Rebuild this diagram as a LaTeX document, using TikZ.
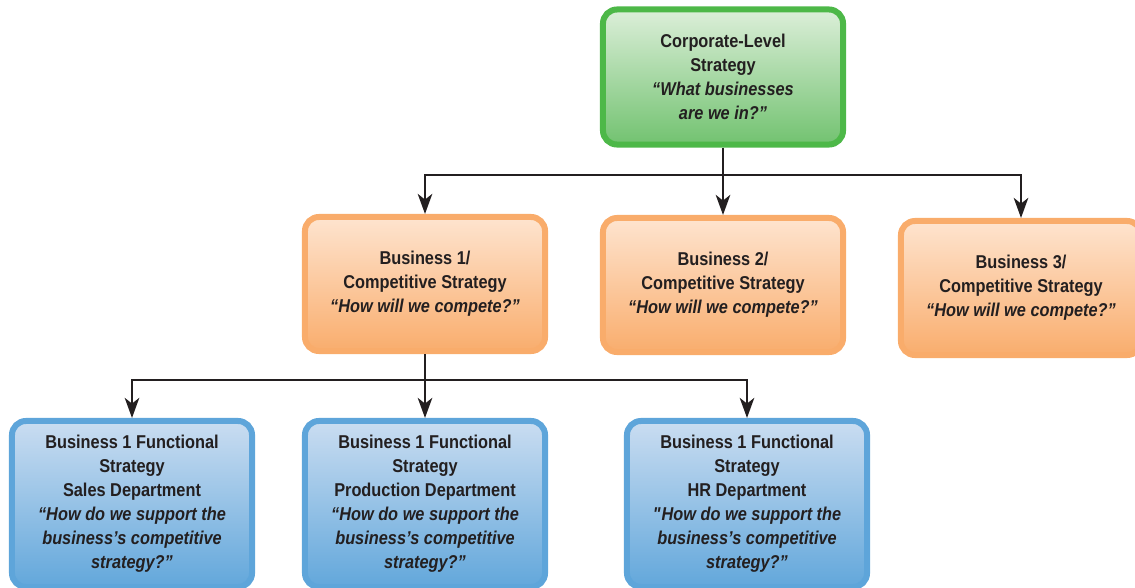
\documentclass[tikz,border=0pt]{standalone}
\usepackage{fontspec}
\setmainfont[FakeStretch=0.88]{Liberation Sans}
\usetikzlibrary{arrows.meta}
\definecolor{ink}{HTML}{231F20}
\definecolor{grnline}{HTML}{4DB848}
\definecolor{grntop}{HTML}{DCEFD9}
\definecolor{grnbot}{HTML}{72C270}
\definecolor{orgline}{HTML}{F9AC6B}
\definecolor{orgtop}{HTML}{FEE4CF}
\definecolor{orgbot}{HTML}{F9AD6D}
\definecolor{bluline}{HTML}{5EA5DA}
\definecolor{blutop}{HTML}{CADDF1}
\definecolor{blubot}{HTML}{62A7DB}
\tikzset{
  box/.style={rounded corners=0.35cm, line width=0.15cm, align=center, text=ink,
    font=\fontsize{13.2}{17.07}\selectfont\bfseries, minimum width=6cm, inner sep=0pt},
  corp/.style={box, draw=grnline, top color=grntop, bottom color=grnbot, minimum height=3.375cm},
  biz/.style={box, draw=orgline, top color=orgtop, bottom color=orgbot, minimum height=3.35cm},
  func/.style={box, draw=bluline, top color=blutop, bottom color=blubot, minimum height=4.15cm},
  link/.style={draw=ink, line width=2pt},
  arr/.style={link, -{Stealth[length=0.5cm, width=0.36cm, inset=0.14cm]}}
}
\begin{document}
\begin{tikzpicture}[x=0.025cm, y=-0.025cm]
\useasboundingbox (0,0) rectangle (1135,587);
\node[corp] (P_0_0) at (723,77) {Corporate-Level\\Strategy\\\itshape “What businesses\\\itshape are we in?”};
\node[biz] (P_1_0) at (425,284) {Business 1/\\Competitive Strategy\\\itshape “How will we compete?”};
\node[biz] (P_1_1) at (723,285) {Business 2/\\Competitive Strategy\\\itshape “How will we compete?”};
\node[biz] (P_1_2) at (1021,288) {Business 3/\\Competitive Strategy\\\itshape “How will we compete?”};
\node[func] (P_2_0) at (132,504) {Business 1 Functional\\Strategy\\Sales Department\\\itshape “How do we support the\\\itshape business’s competitive\\\itshape strategy?”};
\node[func] (P_2_1) at (425,504) {Business 1 Functional\\Strategy\\Production Department\\\itshape “How do we support the\\\itshape business’s competitive\\\itshape strategy?”};
\node[func] (P_2_2) at (747,504) {Business 1 Functional\\Strategy\\HR Department\\\itshape \textquotedbl How do we support the\\\itshape business’s competitive\\\itshape strategy?”};
\coordinate (J_0) at (723,175);
\coordinate (J_1) at (425,380);
\draw[link] (P_1_0.north |- J_0) -- (P_1_2.north |- J_0);
\draw[arr] (P_0_0) -- (P_1_1);
\draw[arr] (J_0) -| (P_1_0.north);
\draw[arr] (J_0) -| (P_1_2.north);
\draw[link] (P_2_0.north |- J_1) -- (P_2_2.north |- J_1);
\draw[arr] (P_1_0) -- (P_2_1);
\draw[arr] (J_1) -| (P_2_0.north);
\draw[arr] (J_1) -| (P_2_2.north);
\end{tikzpicture}
\end{document}
